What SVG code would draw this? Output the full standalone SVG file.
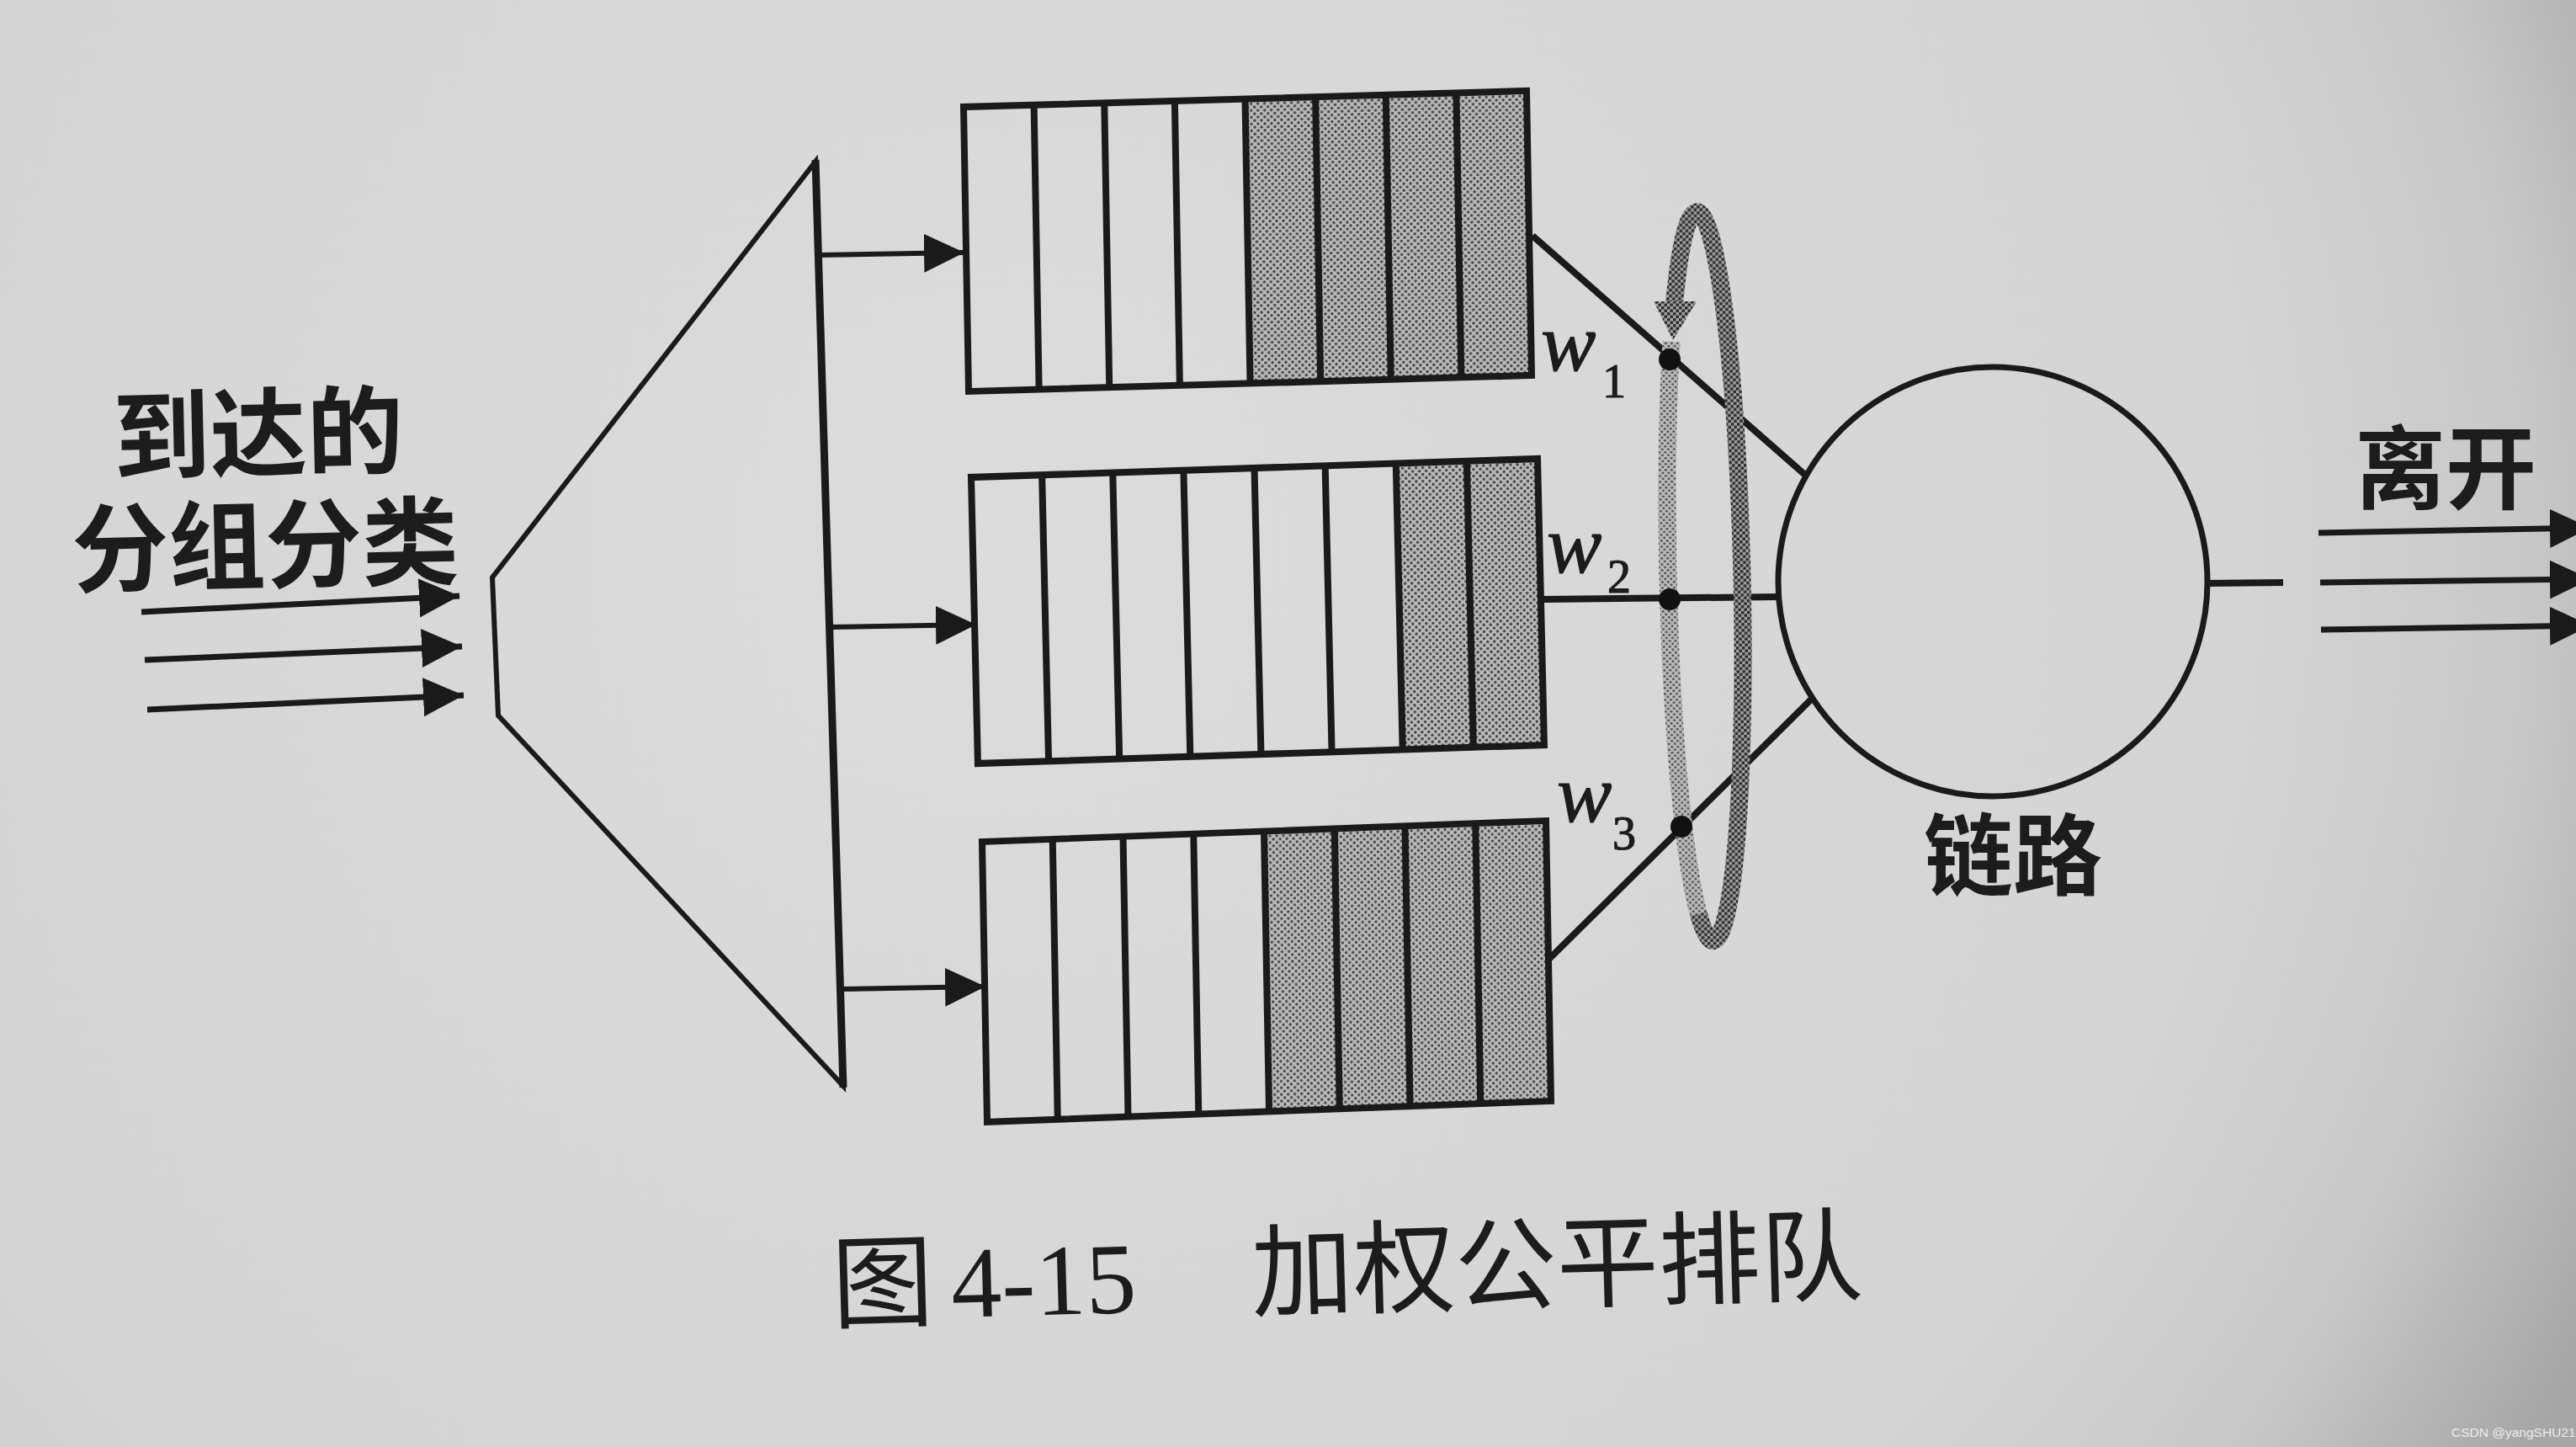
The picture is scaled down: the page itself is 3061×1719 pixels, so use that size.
<svg xmlns="http://www.w3.org/2000/svg" width="3061" height="1719" viewBox="0 0 3061 1719">
<defs>
<radialGradient id="paper" gradientUnits="userSpaceOnUse" cx="1200" cy="650" r="2100">
<stop offset="0" stop-color="#dcdcdc"/>
<stop offset="0.7" stop-color="#d4d4d4"/>
<stop offset="0.86" stop-color="#c8c8c8"/>
<stop offset="1" stop-color="#a6a6a6"/>
</radialGradient>
<pattern id="dots" patternUnits="userSpaceOnUse" width="8" height="8">
<rect width="8" height="8" fill="#bababa"/>
<circle cx="2" cy="2" r="1.7" fill="#444"/>
<circle cx="6" cy="6" r="1.7" fill="#444"/>
</pattern>
<pattern id="ringDark" patternUnits="userSpaceOnUse" width="7" height="7">
<rect width="7" height="7" fill="#a4a4a4"/>
<circle cx="1.75" cy="1.75" r="2" fill="#2e2e2e"/>
<circle cx="5.25" cy="5.25" r="2" fill="#2e2e2e"/>
</pattern>
<pattern id="ringLight" patternUnits="userSpaceOnUse" width="7" height="7">
<rect width="7" height="7" fill="#bdbdbd"/>
<circle cx="1.75" cy="1.75" r="1.6" fill="#555"/>
<circle cx="5.25" cy="5.25" r="1.6" fill="#555"/>
</pattern>
<marker id="ah" markerUnits="userSpaceOnUse" markerWidth="50" markerHeight="48" refX="48" refY="23" orient="auto" viewBox="0 0 50 48">
<path d="M0,0 L48,23 L0,46 Z" fill="#1a1a1a"/>
</marker>
<style>
.qbox{fill:none;stroke:#1a1a1a;stroke-width:8;stroke-linejoin:miter}
.qdiv{fill:none;stroke:#1a1a1a;stroke-width:8}
.conn{fill:none;stroke:#1a1a1a;stroke-width:8;stroke-linecap:butt}
.arr{fill:none;stroke:#1a1a1a;stroke-width:6}
.big{fill:none;stroke:#1a1a1a;stroke-width:7}
.cjk{font-family:"Noto Sans CJK SC","Noto Sans",sans-serif;fill:#1c1c1c}
.lab{font-size:115px;font-weight:700}
.cap{font-size:121px;font-weight:400}
.num{font-family:"Liberation Serif","Times New Roman",serif;font-size:120px;fill:#1c1c1c}
.w{font-family:"Liberation Serif","Times New Roman",serif;font-style:italic;font-size:98px;fill:#1c1c1c;stroke:#1c1c1c;stroke-width:1.2}
.sub{font-style:normal;font-size:56px}
</style>
</defs>

<rect x="0" y="0" width="3061" height="1719" fill="url(#paper)"/>

<g id="classifier">
<polygon points="969,192 1002,1290 592,850 585,686" fill="none" stroke="#1a1a1a" stroke-width="6" stroke-linejoin="miter"/>
<line x1="969" y1="190" x2="1002" y2="1292" stroke="#1a1a1a" stroke-width="9"/>
</g>

<g id="queue1" transform="matrix(0.9985,-0.0284,0.0178,1,1145,127)">
<rect x="335" y="0" width="335" height="338" fill="url(#dots)"/>
<rect x="0" y="0" width="670" height="338" class="qbox"/>
<path class="qdiv" d="M83.75 0V338M167.5 0V338M251.25 0V338M335 0V338M418.75 0V338M502.5 0V338M586.25 0V338"/>
</g>

<g id="queue2" transform="matrix(1.0045,-0.0328,0.0235,1.006,1154,567)">
<rect x="502.5" y="0" width="167.5" height="338" fill="url(#dots)"/>
<rect x="0" y="0" width="670" height="338" class="qbox"/>
<path class="qdiv" d="M83.75 0V338M167.5 0V338M251.25 0V338M335 0V338M418.75 0V338M502.5 0V338M586.25 0V338"/>
</g>

<g id="queue3" transform="matrix(1.0,-0.0373,0.0178,0.985,1167,1000)">
<rect x="335" y="0" width="335" height="338" fill="url(#dots)"/>
<rect x="0" y="0" width="670" height="338" class="qbox"/>
<path class="qdiv" d="M83.75 0V338M167.5 0V338M251.25 0V338M335 0V338M418.75 0V338M502.5 0V338M586.25 0V338"/>
</g>

<g id="connectors">
<line class="big" x1="168" y1="727" x2="546" y2="708" marker-end="url(#ah)"/>
<line class="big" x1="172" y1="784" x2="549" y2="768" marker-end="url(#ah)"/>
<line class="big" x1="175" y1="843" x2="551" y2="826" marker-end="url(#ah)"/>
<line class="arr" x1="972" y1="303" x2="1146" y2="300" marker-end="url(#ah)"/>
<line class="arr" x1="986" y1="745" x2="1160" y2="742" marker-end="url(#ah)"/>
<line class="arr" x1="999" y1="1175" x2="1171" y2="1172" marker-end="url(#ah)"/>
<line class="conn" x1="1821" y1="280" x2="2146" y2="565"/>
<line class="conn" x1="1834" y1="712" x2="2114" y2="709"/>
<line class="conn" x1="1840" y1="1140" x2="2154" y2="829"/>
<line class="conn" x1="2622" y1="693" x2="2713" y2="692"/>
<line class="big" x1="2755" y1="633" x2="3078" y2="627" marker-end="url(#ah)"/>
<line class="big" x1="2757" y1="692" x2="3078" y2="688" marker-end="url(#ah)"/>
<line class="big" x1="2758" y1="748" x2="3078" y2="743" marker-end="url(#ah)"/>
</g>

<g id="scheduler">
<g transform="translate(2026,685) rotate(-1.3)">
<path d="M -16.8 400 A 44 433 0 1 0 -28.9 -327" fill="none" stroke="url(#ringDark)" stroke-width="21"/>
<path d="M -33.6 -280 A 44 433 0 0 0 -16.8 400" fill="none" stroke="url(#ringLight)" stroke-width="21"/>
</g>
<polygon points="1965,358 2016,358 1988,404" fill="url(#ringDark)"/>
<circle cx="1984" cy="427" r="13" fill="#111"/>
<circle cx="1984" cy="712" r="13" fill="#111"/>
<circle cx="1998" cy="982" r="13" fill="#111"/>
</g>

<g id="link">
<circle cx="2368" cy="691" r="255" fill="none" stroke="#1a1a1a" stroke-width="7"/>
<text class="cjk lab" x="2392" y="1055" text-anchor="middle" style="font-size:106px">链路</text>
</g>

<g id="labels">
<text class="cjk lab" x="307" y="557" text-anchor="middle" transform="rotate(-1.3 307 510)">到达的</text>
<text class="cjk lab" x="315" y="690" text-anchor="middle" transform="rotate(-1.3 315 640)">分组分类</text>
<text class="cjk lab" x="2906" y="596" text-anchor="middle" style="font-size:108px">离开</text>
<text class="w" x="1831" y="440">w<tspan class="sub" x="1904" y="472">1</tspan></text>
<text class="w" x="1838" y="680">w<tspan class="sub" x="1910" y="704">2</tspan></text>
<text class="w" x="1850" y="976">w<tspan class="sub" x="1916" y="1009">3</tspan></text>
</g>

<g id="caption" transform="rotate(-1.6 1600 1510)">
<text class="cjk cap" x="988" y="1552">图</text>
<text class="num" x="1130" y="1552">4-15</text>
<text class="cjk cap" x="1487" y="1552">加权公平排队</text>
</g>

<text x="2913" y="1707" font-family="Liberation Sans, Arial, sans-serif" font-size="15.5" fill="#ececec">CSDN @yangSHU21</text>
</svg>
